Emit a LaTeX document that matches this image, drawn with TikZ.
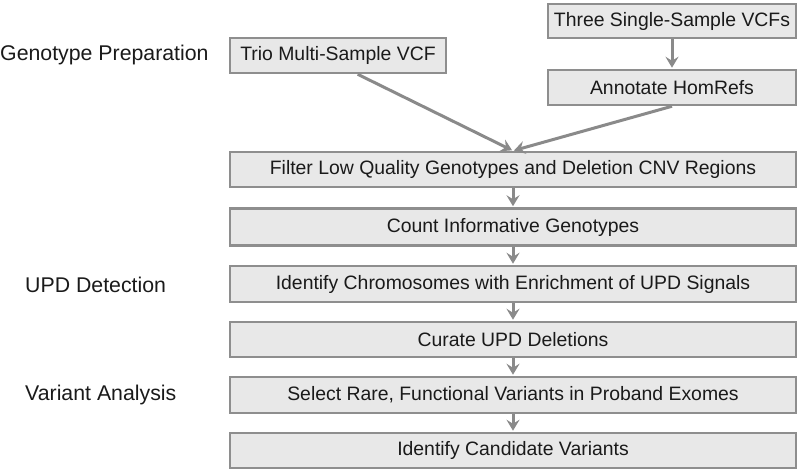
\documentclass[tikz,border=0pt]{standalone}
\usepackage{fontspec}
\setmainfont{Liberation Sans}
\usetikzlibrary{arrows.meta,calc}
\definecolor{boxfill}{HTML}{E8E8E8}
\definecolor{boxline}{HTML}{8E8E8E}
\definecolor{arrowc}{HTML}{8A8A8A}
\definecolor{txt}{HTML}{1A1A1A}
\tikzset{
  x=1pt,y=-1pt,
  stepbox/.style={draw=boxline,fill=boxfill,line width=2.5pt,inner sep=0pt,
    font=\fontsize{19.4}{21}\selectfont,text=txt},
  lbl/.style={font=\fontsize{21.3}{23}\selectfont,text=txt,anchor=west,inner sep=0pt},
  flow/.style={draw=arrowc,line width=3pt,-{Stealth[length=11pt,width=13pt,inset=4pt]},shorten >=1pt}
}
\begin{document}
\begin{tikzpicture}
\useasboundingbox (0,0) rectangle (801,469);
% boxes: node at center with given size
\node[stepbox,minimum width=248pt,minimum height=34pt] (three) at (672,21) {Three Single-Sample VCFs};
\node[stepbox,minimum width=216pt,minimum height=35pt] (trio) at (338,55.5) {Trio Multi-Sample VCF};
\node[stepbox,minimum width=248pt,minimum height=35pt] (annot) at (672,87.5) {Annotate HomRefs};
\node[stepbox,minimum width=566pt,minimum height=35pt] (filter) at (513,169.5) {Filter Low Quality Genotypes and Deletion CNV Regions};
\node[stepbox,minimum width=566pt,minimum height=37pt] (count) at (513,227) {Count Informative Genotypes};
\node[stepbox,minimum width=566pt,minimum height=36pt] (chrom) at (513,284) {Identify Chromosomes with Enrichment of UPD Signals};
\node[stepbox,minimum width=566pt,minimum height=35pt] (curate) at (513,339.5) {Curate UPD Deletions};
\node[stepbox,minimum width=566pt,minimum height=36pt] (select) at (513,395) {Select Rare, Functional Variants in Proband Exomes};
\node[stepbox,minimum width=566pt,minimum height=35pt] (cand) at (513,450.5) {Identify Candidate Variants};
% labels
\node[lbl] (l1) at (0,55) {Genotype Preparation};
\node[lbl] (l2) at (25,285) {UPD Detection};
\node[lbl] (l3) at (25,395) {Variant Analysis};
% connectors
\coordinate (triofoot) at ($(trio.south west)!0.59!(trio.south east)$);
\draw[flow] (triofoot) -- (filter.north);
\draw[flow] (annot.south) -- (filter.north);
\draw[flow] (three) -- (annot);
\draw[flow] (filter) -- (count);
\draw[flow] (count) -- (chrom);
\draw[flow] (chrom) -- (curate);
\draw[flow] (curate) -- (select);
\draw[flow] (select) -- (cand);
\end{tikzpicture}
\end{document}
